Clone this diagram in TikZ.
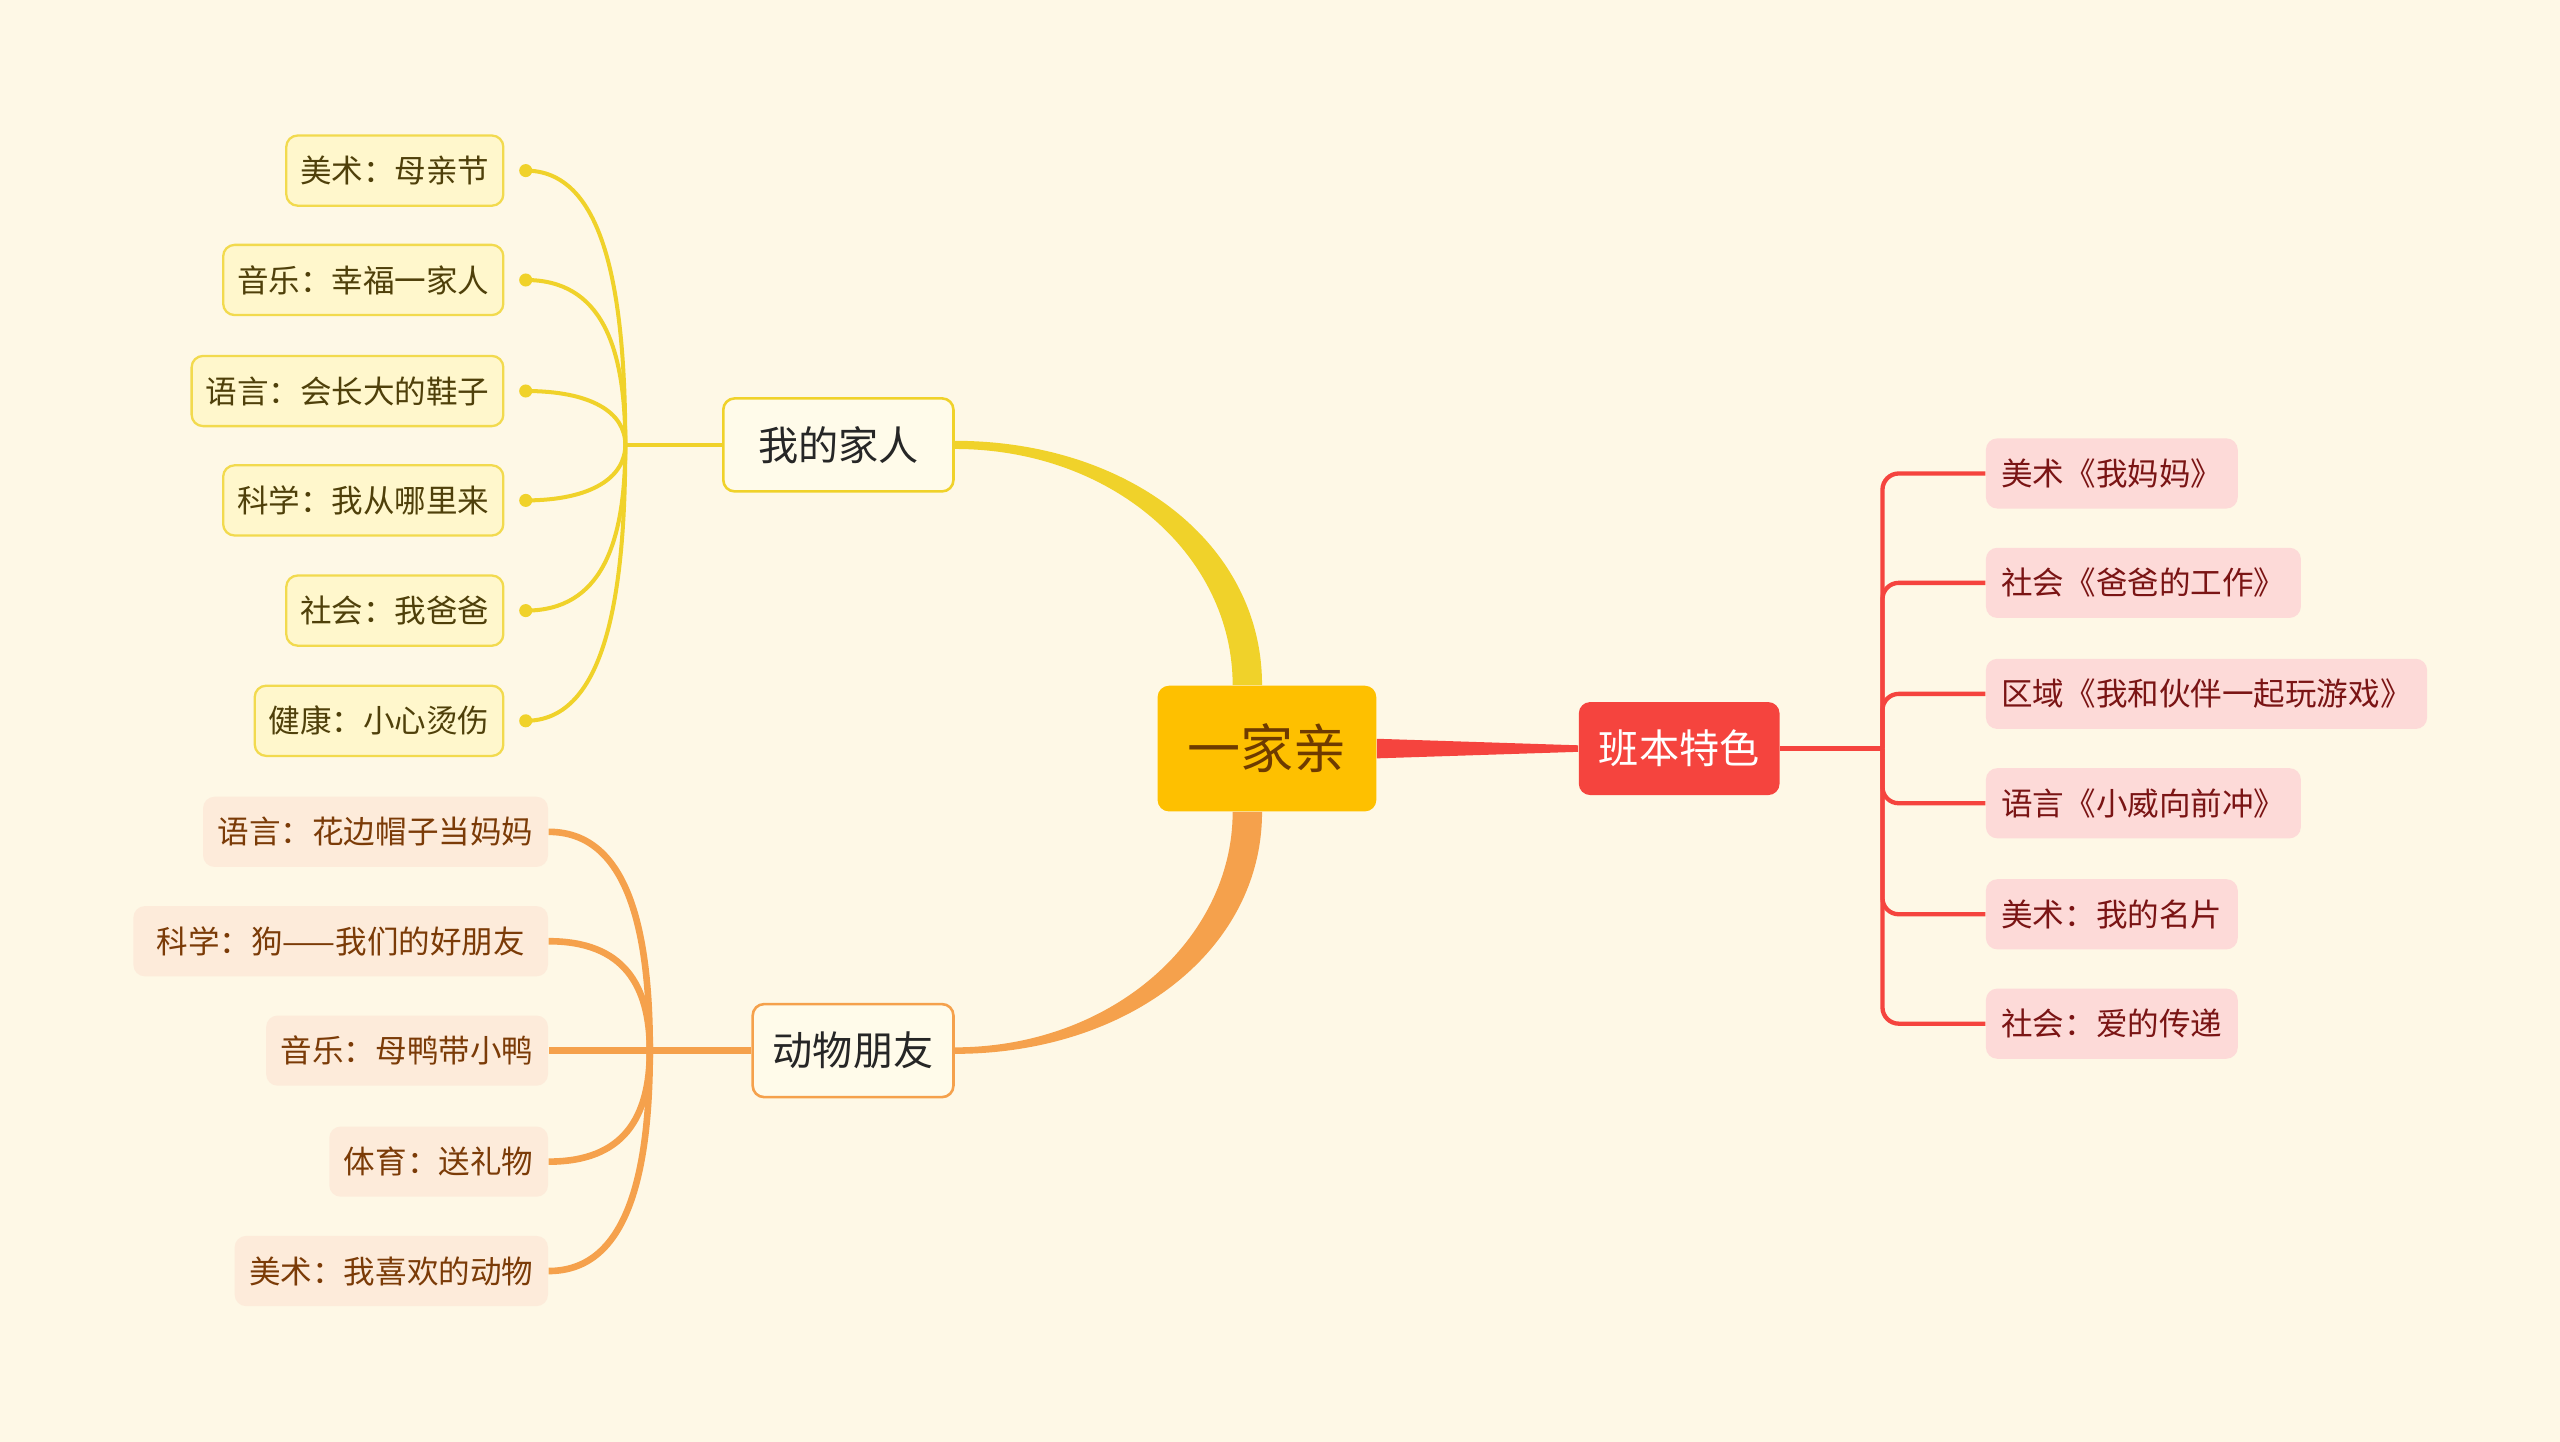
\documentclass[tikz,border=0pt]{standalone}
\usepackage{fontspec}
\setmainfont{Noto Sans CJK SC}
\usetikzlibrary{calc}
\definecolor{bgcream}{HTML}{FEF8E6}
\definecolor{rootfill}{HTML}{FEC000}
\definecolor{roottext}{HTML}{6E3B00}
\definecolor{yellowline}{HTML}{F0D22A}
\definecolor{yellowfill}{HTML}{FFF7CC}
\definecolor{yellowedge}{HTML}{F2DA4E}
\definecolor{yellowtext}{HTML}{4F400A}
\definecolor{topicfill}{HTML}{FFFBEA}
\definecolor{orangeline}{HTML}{F5A14C}
\definecolor{orangefill}{HTML}{FDEBDA}
\definecolor{orangetext}{HTML}{7B3B07}
\definecolor{redline}{HTML}{F5443E}
\definecolor{redfill}{HTML}{FDDAD8}
\definecolor{redtext}{HTML}{7A1414}

\begin{document}
\begin{tikzpicture}[x=0.02cm, y=0.02cm,
  root/.style={
    fill=rootfill, rounded corners=0.14cm,
    minimum width=2.68cm, minimum height=1.54cm,
    font=\fontsize{18.5}{22}\selectfont, text=roottext
  },
  feat/.style={
    fill=redline, rounded corners=0.14cm,
    minimum width=2.46cm, minimum height=1.14cm,
    font=\fontsize{14}{17}\selectfont, text=white
  },
  topic/.style={
    fill=topicfill, line width=0.9pt, rounded corners=0.14cm,
    minimum height=1.14cm,
    font=\fontsize{14}{17}\selectfont, text=black!85
  },
  yleaf/.style={
    draw=yellowedge, fill=yellowfill, line width=0.8pt, rounded corners=0.14cm,
    minimum height=0.86cm, inner xsep=0.17cm, anchor=east,
    font=\fontsize{11}{13}\selectfont, text=yellowtext
  },
  oleaf/.style={
    fill=orangefill, rounded corners=0.14cm,
    minimum height=0.86cm, inner xsep=0.18cm, anchor=east,
    font=\fontsize{11}{13}\selectfont, text=orangetext
  },
  rleaf/.style={
    fill=redfill, rounded corners=0.14cm,
    minimum height=0.86cm, inner xsep=0.19cm, anchor=west,
    font=\fontsize{11}{13}\selectfont, text=redtext
  },
  ydot/.style={circle, fill=yellowline, inner sep=0pt, minimum size=0.16cm},
  yline/.style={draw=yellowline, line width=1.4pt},
  oline/.style={draw=orangeline, line width=2.3pt},
  rline/.style={draw=redline, line width=1.5pt, rounded corners=0.2cm},
]

%% ---- Background ----
\fill[bgcream] (0,0) rectangle (1568,883);
\useasboundingbox (0,0) rectangle (1568,883);

%% ---- Root and main topics ----
\node[root] (root) at (776,424.5) {一家亲};
\node[feat] (feat) at (1028.5,424.5) {班本特色};
\node[topic, draw=yellowline, minimum width=2.82cm] (home) at (513.5,610.5) {我的家人};
\node[topic, draw=orangeline, minimum width=2.46cm] (animal) at (522.5,239.5) {动物朋友};

%% ---- Tapered branches from the root ----
\fill[yellowline] ($(home.east)+(0,2.5)$)
  .. controls ($(home.east)+(106,2.5)$) and ($(root.north)+(-3,87)$) .. ($(root.north)+(-3,0)$)
  -- ($(root.north)+(-21,0)$)
  .. controls ($(root.north)+(-21,80)$) and ($(home.east)+(96,-2.5)$) .. ($(home.east)+(0,-2.5)$)
  -- cycle;
\fill[orangeline] ($(animal.east)+(0,-2)$)
  .. controls ($(animal.east)+(106,-2)$) and ($(root.south)+(-3,-85)$) .. ($(root.south)+(-3,0)$)
  -- ($(root.south)+(-21,0)$)
  .. controls ($(root.south)+(-21,-78)$) and ($(animal.east)+(96,2)$) .. ($(animal.east)+(0,2)$)
  -- cycle;
\fill[redline] ($(root.east)+(0,6)$) -- ($(feat.west)+(0,2)$)
  -- ($(feat.west)+(0,-2)$) -- ($(root.east)+(0,-6)$) -- cycle;

%% ---- 我的家人 leaves ----
\node[yleaf] (y1) at (309,778.5) {美术：母亲节};
\node[yleaf] (y2) at (309,711.5) {音乐：幸福一家人};
\node[yleaf] (y3) at (309,643.5) {语言：会长大的鞋子};
\node[yleaf] (y4) at (309,576.5) {科学：我从哪里来};
\node[yleaf] (y5) at (309,509)   {社会：我爸爸};
\node[yleaf] (y6) at (309,441.5) {健康：小心烫伤};
\coordinate (yj) at (383,610.5);
\draw[yline] (home.west) -- (yj);
\draw[yline] (yj) .. controls +(0,101)  and +(46,0) .. ($(y1.east)+(13,0)$) node[ydot] (yd1) {};
\draw[yline] (yj) .. controls +(0,61)   and +(46,0) .. ($(y2.east)+(13,0)$) node[ydot] (yd2) {};
\draw[yline] (yj) .. controls +(0,20)   and +(40,0) .. ($(y3.east)+(13,0)$) node[ydot] (yd3) {};
\draw[yline] (yj) .. controls +(0,-20)  and +(40,0) .. ($(y4.east)+(13,0)$) node[ydot] (yd4) {};
\draw[yline] (yj) .. controls +(0,-61)  and +(46,0) .. ($(y5.east)+(13,0)$) node[ydot] (yd5) {};
\draw[yline] (yj) .. controls +(0,-101) and +(46,0) .. ($(y6.east)+(13,0)$) node[ydot] (yd6) {};

%% ---- 动物朋友 leaves ----
\node[oleaf] (o1) at (336,373.5) {语言：花边帽子当妈妈};
\node[oleaf, minimum width=5.08cm] (o2) at (336,306.5) {科学：狗——我们的好朋友};
\node[oleaf] (o3) at (336,239.5) {音乐：母鸭带小鸭};
\node[oleaf] (o4) at (336,171.5) {体育：送礼物};
\node[oleaf] (o5) at (336,104.5) {美术：我喜欢的动物};
\coordinate (oj) at (398,239.5);
\draw[oline] (animal.west) -- (oj);
\draw[oline] (oj) .. controls +(0,80)  and +(46,0) .. (o1.east);
\draw[oline] (oj) .. controls +(0,40)  and +(46,0) .. (o2.east);
\draw[oline] (oj) -- (o3.east);
\draw[oline] (oj) .. controls +(0,-41) and +(46,0) .. (o4.east);
\draw[oline] (oj) .. controls +(0,-81) and +(46,0) .. (o5.east);

%% ---- 班本特色 leaves ----
\node[rleaf] (r1) at (1216,593) {美术《我妈妈》};
\node[rleaf] (r2) at (1216,526) {社会《爸爸的工作》};
\node[rleaf] (r3) at (1216,458) {区域《我和伙伴一起玩游戏》};
\node[rleaf] (r4) at (1216,391) {语言《小威向前冲》};
\node[rleaf] (r5) at (1216,323) {美术：我的名片};
\node[rleaf] (r6) at (1216,256) {社会：爱的传递};
\coordinate (rj) at (1153,424.5);
\draw[rline] (feat.east) -- (rj);
\draw[rline] (rj) |- (r1.west);
\draw[rline] (rj) |- (r2.west);
\draw[rline] (rj) |- (r3.west);
\draw[rline] (rj) |- (r4.west);
\draw[rline] (rj) |- (r5.west);
\draw[rline] (rj) |- (r6.west);

\end{tikzpicture}
\end{document}
